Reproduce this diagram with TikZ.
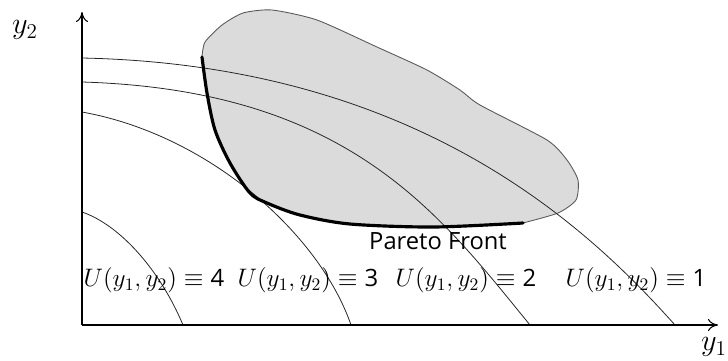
\documentclass[tikz,border=0pt]{standalone}
\usepackage{fontspec}
\setsansfont{Open Sans}
\usetikzlibrary{arrows.meta}

\begin{document}
\begin{tikzpicture}[x=0.02cm,y=-0.02cm,
  level/.style={draw=black!85,line width=0.45pt},
  front/.style={line width=1.8pt,line join=round,line cap=round},
  region/.style={fill=black!14,draw=black!65,line width=0.5pt},
  ulabel/.style={font=\fontsize{13.6}{16}\selectfont,inner sep=0pt},
  axlabel/.style={font=\fontsize{18}{20}\selectfont,inner sep=0pt},
  >={To[length=2mm,width=2.4mm]}]
  \useasboundingbox (0,0) rectangle (728,360);
  \coordinate (o) at (82,325);
  \coordinate (xend) at (718,325);
  \coordinate (yend) at (82,12);
  % feasible region
  \path[region] plot[smooth,tension=0.4] coordinates {(202,57) (205,42) (222,25) (243,13) (272,10) (317,20) (377,47) (427,70) (460,90) (480,105) (547,140) (567,160) (578,180) (576,200) (558,213) (523,223)}
    -- plot[smooth,tension=0.5] coordinates {(523,223) (433,227) (350,224) (300,215) (267,203) (250,193) (230,163) (215,130) (207,93) (202,57)} -- cycle;
  % level curves
  \draw[level] (82,58) .. controls (420,65) and (590,230) .. (675,325);
  \draw[level] (82,82) .. controls (350,90) and (440,215) .. (530,325);
  \draw[level] (82,112) .. controls (210,135) and (320,235) .. (351,325);
  \draw[level] (82,212) .. controls (120,225) and (160,270) .. (183,325);
  % pareto front
  \draw[front] plot[smooth,tension=0.5] coordinates {(202,57) (207,93) (215,130) (230,163) (250,193) (267,203) (300,215) (350,224) (433,227) (523,223)};
  \node[font=\sffamily\fontsize{13.5}{15}\selectfont] (pf) at (438,241) {Pareto Front};
  % axes
  \draw[->,line width=0.6pt] (o) -- (xend);
  \draw[->,line width=0.6pt] (o) -- (yend);
  \node[axlabel] (ly1) at (714,347) {$y_1$};
  \node[axlabel] (ly2) at (25,30) {$y_2$};
  \node[ulabel] (u4) at (154,280) {$U(y_1,y_2)\equiv\textsf{4}$};
  \node[ulabel] (u3) at (308,280) {$U(y_1,y_2)\equiv\textsf{3}$};
  \node[ulabel] (u2) at (466,280) {$U(y_1,y_2)\equiv\textsf{2}$};
  \node[ulabel] (u1) at (636,280) {$U(y_1,y_2)\equiv\textsf{1}$};
\end{tikzpicture}
\end{document}
